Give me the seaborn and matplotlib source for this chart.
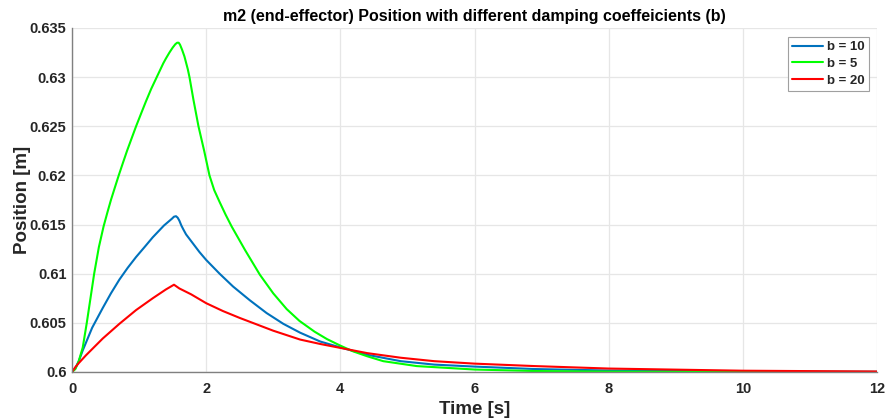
import numpy as np
import pandas as pd
import matplotlib
matplotlib.use("Agg")
import matplotlib.pyplot as plt
from matplotlib.ticker import FuncFormatter
import seaborn as sns

# End-effector position (m2) for three damping coefficients
t_b10 = [0, 0.05, 0.1, 0.16, 0.3, 0.457, 0.58, 0.706, 0.83, 0.955, 1.08, 1.203,
         1.37, 1.49, 1.52, 1.55, 1.575, 1.60, 1.63, 1.66, 1.70, 1.8, 1.9,
         2.0, 2.2, 2.4, 2.65, 2.9, 3.15, 3.4, 3.7, 4.0, 4.4, 4.9, 5.4, 6.0, 6.9,
         8.0, 10.0, 12.0]
pos_b10 = [0.6, 0.6004, 0.6011, 0.6022, 0.6045, 0.6065, 0.6080, 0.6094, 0.6106,
           0.6117, 0.6127, 0.6137, 0.6149, 0.6156, 0.6158, 0.61585, 0.6157,
           0.6154, 0.6149, 0.6145, 0.6140, 0.6131, 0.6122, 0.6114, 0.6100,
           0.6087, 0.6073, 0.6060, 0.6049, 0.6040, 0.6031, 0.6025, 0.60175,
           0.6011, 0.60075, 0.60055, 0.6003, 0.60015, 0.60005, 0.60002]

t_b5 = [0, 0.05, 0.1, 0.16, 0.22, 0.275, 0.33, 0.40, 0.47, 0.53, 0.58, 0.64,
        0.696, 0.76, 0.82, 0.89, 0.955, 1.03, 1.1, 1.18, 1.263, 1.36, 1.40,
        1.452, 1.50, 1.54, 1.567, 1.59, 1.61, 1.64, 1.676, 1.726, 1.751, 1.81,
        1.885, 1.97, 2.049, 2.12, 2.2, 2.29, 2.38, 2.58, 2.8, 3.0, 3.2, 3.39,
        3.616, 3.8, 3.994, 4.19, 4.4, 4.64, 5.14, 6.0, 6.88, 8.0, 10.0, 12.0]
pos_b5 = [0.6, 0.6003, 0.6011, 0.6025, 0.6050, 0.6075, 0.6100, 0.6127, 0.6148,
          0.6163, 0.6175, 0.6188, 0.6200, 0.6213, 0.6225, 0.6238, 0.6250,
          0.6263, 0.6275, 0.6288, 0.6300, 0.6314, 0.6319, 0.6325, 0.6330,
          0.63335, 0.6335, 0.6335, 0.6333, 0.6328, 0.6321, 0.6308, 0.6300,
          0.6277, 0.6250, 0.6225, 0.6200, 0.6185, 0.6173, 0.6160, 0.6148,
          0.6124, 0.6099, 0.6080, 0.6064, 0.6052, 0.6041, 0.60335, 0.6027,
          0.6021, 0.6016, 0.6011, 0.6006, 0.60025, 0.6001, 0.60004, 0.60001,
          0.6]

t_b20 = [0, 0.05, 0.1, 0.208, 0.457, 0.706, 0.955, 1.203, 1.40, 1.52, 1.6,
         1.776, 2.0, 2.25, 2.5, 2.75, 3.0, 3.4, 3.7, 4.0, 4.4, 4.9, 5.4, 6.0,
         6.9, 8.0, 10.0, 12.0]
pos_b20 = [0.6, 0.6005, 0.6009, 0.6017, 0.6034, 0.6049, 0.6063, 0.6075,
           0.6084, 0.60888, 0.6085, 0.6079, 0.6070, 0.6062, 0.6055, 0.60485,
           0.6042, 0.6033, 0.60285, 0.60245, 0.60192, 0.60145, 0.6011, 0.60085,
           0.6006, 0.60035, 0.60013, 0.60005]

labels = ["b = 10", "b = 5", "b = 20"]
colors = {"b = 10": "#0072BD", "b = 5": "#00FF00", "b = 20": "#FF0000"}

df = pd.concat([
    pd.DataFrame({"Time": t_b10, "Position": pos_b10, "series": "b = 10"}),
    pd.DataFrame({"Time": t_b5, "Position": pos_b5, "series": "b = 5"}),
    pd.DataFrame({"Time": t_b20, "Position": pos_b20, "series": "b = 20"}),
], ignore_index=True)

sns.set_theme(style="white")
plt.rcParams["font.family"] = ["Liberation Sans", "DejaVu Sans"]
plt.rcParams["font.weight"] = "bold"
plt.rcParams["lines.solid_joinstyle"] = "round"

fig = plt.figure(figsize=(8.87, 4.19), dpi=100)
ax = fig.add_axes([0.0812, 0.1122, 0.9075, 0.821])

sns.lineplot(data=df, x="Time", y="Position", hue="series", hue_order=labels,
             palette=colors, linewidth=1.5, sort=True, estimator=None, ax=ax)
for ln in ax.get_lines():
    ln.set_solid_joinstyle("round")

ax.set_xlim(0, 12)
ax.set_ylim(0.6, 0.635)
ax.set_xticks(np.arange(0, 13, 2))
ax.set_yticks([0.6, 0.605, 0.61, 0.615, 0.62, 0.625, 0.63, 0.635])
ax.yaxis.set_major_formatter(FuncFormatter(lambda v, p: f"{v:.3f}".rstrip("0").rstrip(".")))

ax.grid(True, color="#e6e6e6", linewidth=0.9)
ax.set_axisbelow(True)
for side in ["top", "right"]:
    ax.spines[side].set_visible(False)
for side in ["left", "bottom"]:
    ax.spines[side].set_color("#808080")
    ax.spines[side].set_linewidth(1.0)

ax.tick_params(axis="both", direction="in", length=5, width=0.8, color="#808080",
               labelsize=10.5, labelcolor="#262626")
ax.tick_params(axis="x", pad=7)
ax.tick_params(axis="y", pad=4)
for lbl in ax.get_xticklabels() + ax.get_yticklabels():
    lbl.set_fontweight("bold")

ax.set_xlabel("Time [s]", fontsize=13.5, fontweight="bold", color="#262626", labelpad=3.5)
ax.set_ylabel("Position [m]", fontsize=13.5, fontweight="bold", color="#262626", labelpad=-1)
ax.set_title("m2 (end-effector) Position with different damping coeffeicients (b)",
             fontsize=11.5, fontweight="bold", color="#000000", pad=5)

leg = ax.legend(loc="upper right", bbox_to_anchor=(0.99, 0.975), frameon=True,
                fancybox=False, edgecolor="#a0a0a0", framealpha=1,
                prop={"weight": "bold", "size": 9.5}, handlelength=2.3,
                handletextpad=0.3, borderpad=0.35, labelspacing=0.33,
                borderaxespad=0.0)
leg.get_frame().set_linewidth(0.8)
leg.set_title(None)

fig.savefig("out.png", dpi=100)
